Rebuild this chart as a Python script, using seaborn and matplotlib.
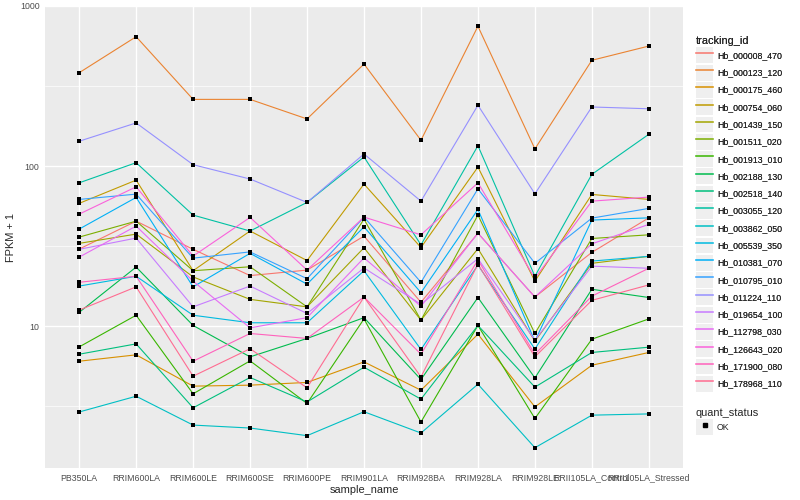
import numpy as np
import pandas as pd
import matplotlib
matplotlib.use("Agg")
import matplotlib.pyplot as plt
import seaborn as sns
from matplotlib.lines import Line2D
from matplotlib.patches import Rectangle
from matplotlib.legend_handler import HandlerTuple

# sample order on the x axis
samples = ["PB350LA", "RRIM600LA", "RRIM600LE", "RRIM600SE", "RRIM600PE", "RRIM901LA",
           "RRIM928BA", "RRIM928LA", "RRIM928LE", "RRII105LA_Control", "RRII105LA_Stressed"]

# FPKM + 1 per gene
Hb_000008_470 = [30.3, 45.3, 30.2, 20.7, 22.4, 36.5, 14.1, 38.1, 15.2, 28.9, 47.5]
Hb_000123_120 = [383, 643, 261, 261, 197, 434, 145, 747, 128, 458, 562]
Hb_000175_460 = [6.04, 6.62, 4.22, 4.28, 4.45, 5.98, 3.98, 8.91, 3.13, 5.70, 6.85]
Hb_000754_060 = [58.5, 81.7, 22.2, 39.3, 25.7, 77.2, 31.0, 98.6, 19.1, 66.5, 61.9]
Hb_001439_150 = [32.9, 37.6, 20.3, 14.7, 13.2, 30.9, 10.9, 30.5, 8.06, 24.7, 27.3]
Hb_001511_020 = [36.0, 45.3, 22.2, 23.5, 13.2, 46.6, 10.9, 49.4, 9.0, 35.3, 37.2]
Hb_001913_010 = [7.42, 11.7, 3.78, 6.07, 3.29, 11.1, 2.52, 10.1, 2.65, 8.29, 11.1]
Hb_002188_130 = [12.2, 23.4, 10.1, 6.43, 8.38, 11.3, 4.64, 15.1, 4.75, 17.0, 15.1]
Hb_002518_140 = [6.68, 7.75, 3.09, 4.78, 3.36, 5.54, 3.50, 10.1, 4.16, 6.85, 7.39]
Hb_003055_120 = [78.6, 105, 49.4, 39.3, 59.3, 114, 32.2, 134, 20.5, 88.8, 158]
Hb_003862_050 = [2.91, 3.65, 2.41, 2.31, 2.07, 2.92, 2.15, 4.34, 1.74, 2.78, 2.83]
Hb_005539_350 = [17.8, 20.5, 11.7, 10.5, 10.5, 22.2, 7.15, 24.1, 7.2, 25.5, 27.3]
Hb_010381_070 = [40.4, 63.7, 17.6, 28.5, 18.3, 41.7, 16.2, 53.6, 8.06, 46.0, 47.5]
Hb_010795_010 = [61.9, 66.8, 26.6, 29.1, 19.8, 48.0, 18.8, 72.1, 24.7, 47.3, 54.4]
Hb_011224_110 = [143, 186, 102, 83.0, 59.3, 119, 60.4, 240, 67.1, 234, 228]
Hb_019654_100 = [30.2, 35.5, 13.2, 17.8, 12.0, 23.1, 13.7, 26.4, 8.18, 23.7, 23.0]
Hb_112798_030 = [27.0, 42.2, 19.1, 9.76, 11.3, 26.7, 13.3, 38.1, 15.2, 32.7, 43.2]
Hb_126643_020 = [50.1, 74.2, 27.4, 47.8, 22.4, 48.0, 37.2, 78.6, 19.9, 60.4, 64.0]
Hb_171900_080 = [18.8, 20.5, 6.04, 9.0, 8.38, 15.2, 6.68, 25.9, 6.68, 15.4, 23.0]
Hb_178968_110 = [12.6, 17.6, 4.87, 7.23, 4.12, 15.2, 4.82, 24.4, 6.43, 14.5, 18.1]

genes = {
    "Hb_000008_470": Hb_000008_470, "Hb_000123_120": Hb_000123_120,
    "Hb_000175_460": Hb_000175_460, "Hb_000754_060": Hb_000754_060,
    "Hb_001439_150": Hb_001439_150, "Hb_001511_020": Hb_001511_020,
    "Hb_001913_010": Hb_001913_010, "Hb_002188_130": Hb_002188_130,
    "Hb_002518_140": Hb_002518_140, "Hb_003055_120": Hb_003055_120,
    "Hb_003862_050": Hb_003862_050, "Hb_005539_350": Hb_005539_350,
    "Hb_010381_070": Hb_010381_070, "Hb_010795_010": Hb_010795_010,
    "Hb_011224_110": Hb_011224_110, "Hb_019654_100": Hb_019654_100,
    "Hb_112798_030": Hb_112798_030, "Hb_126643_020": Hb_126643_020,
    "Hb_171900_080": Hb_171900_080, "Hb_178968_110": Hb_178968_110,
}
ids = list(genes.keys())

# ggplot default hue colours for 20 levels
colors = ["#F8766D", "#EA8331", "#D89000", "#C09B00", "#A3A500", "#7CAE00", "#39B600",
          "#00BB4E", "#00BF7D", "#00C1A3", "#00BFC4", "#00BAE0", "#00B0F6", "#35A2FF",
          "#9590FF", "#C77CFF", "#E76BF3", "#FA62DB", "#FF62BC", "#FF6C91"]
palette = dict(zip(ids, colors))

rows = []
for g in ids:
    for s, v in zip(samples, genes[g]):
        rows.append({"tracking_id": g, "sample_name": s, "fpkm": v, "quant_status": "OK"})
df = pd.DataFrame(rows)

sns.set_theme(style="darkgrid")
plt.rcParams['font.family'] = ['Liberation Sans', 'DejaVu Sans']

fig = plt.figure(figsize=(8, 5), dpi=100)
ax = fig.add_axes([45/800, 1 - 468/500, (683-45)/800, (468-6)/500])
ax.set_facecolor("#EBEBEB")

sns.lineplot(data=df, x="sample_name", y="fpkm", hue="tracking_id", hue_order=ids,
             palette=palette, sort=False, estimator=None, linewidth=0.8, legend=False, ax=ax)
sns.scatterplot(data=df, x="sample_name", y="fpkm", color="black", marker="s", s=8,
                linewidth=0, legend=False, ax=ax, zorder=5)

ax.set_yscale("log")
ax.set_ylim(1.3, 1000)
ax.set_xlim(-0.6, 10.6)
ax.set_yticks([10, 100, 1000])
ax.set_yticklabels(["10", "100", "1000"])
ax.set_yticks([10**0.5, 10**1.5, 10**2.5], minor=True)
ax.grid(which="major", color="white", linewidth=1.0)
ax.grid(which="minor", color="white", linewidth=0.5)
ax.grid(which="major", axis="x", color="white", linewidth=1.0)
for sp in ax.spines.values():
    sp.set_visible(False)
ax.tick_params(axis="both", which="major", labelsize=6.3, colors="#333333", length=2.5,
               width=0.6, pad=1.5, labelcolor="#4D4D4D")
ax.tick_params(axis="y", which="minor", length=0)
ax.set_xlabel("sample_name", fontsize=7.9, labelpad=1.5)
ax.set_ylabel("FPKM + 1", fontsize=7.9, labelpad=3)

# legends in ggplot style: grey key boxes
key_bg = "#EFEFEF"
fs = 6.3
handles = [(Rectangle((0, 0), 1, 1, facecolor=key_bg, edgecolor="none"),
            Line2D([], [], color=c, linewidth=1.1)) for c in colors]
leg1 = fig.legend(handles, ids, title="tracking_id", loc="upper left",
                  bbox_to_anchor=(696/800, 1 - 36/500), frameon=False, fontsize=fs,
                  title_fontsize=7.9, handlelength=1.95, handleheight=2.4,
                  labelspacing=0.17, handletextpad=0.45, borderpad=0, borderaxespad=0,
                  alignment="left", handler_map={tuple: HandlerTuple(ndivide=1)})
h2 = [(Rectangle((0, 0), 1, 1, facecolor=key_bg, edgecolor="none"),
       Line2D([], [], color="black", marker="s", markersize=2.5, linestyle="none"))]
leg2 = fig.legend(h2, ["OK"], title="quant_status", loc="upper left",
                  bbox_to_anchor=(696/800, 1 - 408/500), frameon=False, fontsize=fs,
                  title_fontsize=7.9, handlelength=1.95, handleheight=2.4,
                  labelspacing=0.17, handletextpad=0.45, borderpad=0, borderaxespad=0,
                  alignment="left", handler_map={tuple: HandlerTuple(ndivide=1)})
fig.add_artist(leg1)

fig.savefig("out.png", dpi=100)
